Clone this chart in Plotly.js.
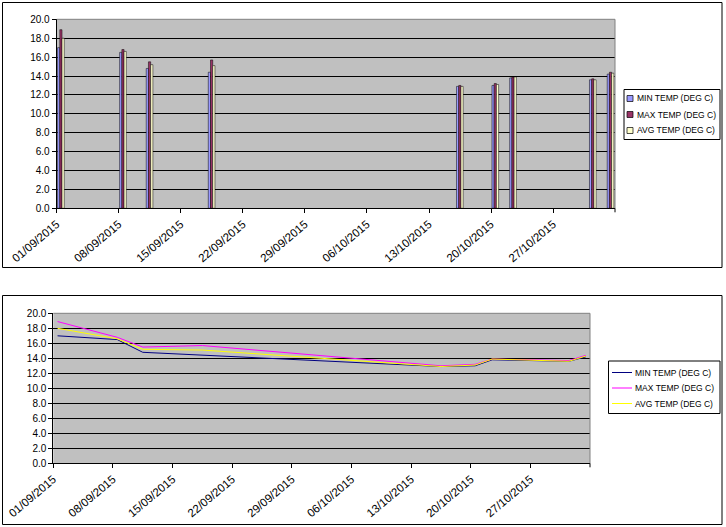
<!DOCTYPE html>
<html>
<head>
<meta charset="utf-8">
<script src="https://cdn.plot.ly/plotly-3.0.1.min.js"></script>
<style>html,body{margin:0;padding:0;background:#fff;}#chart{width:726px;height:527px;}</style>
</head>
<body>
<div id="chart"></div>
<script>
// ---- data ----
var dates = ['2015-09-01','2015-09-08','2015-09-11','2015-09-18','2015-10-16','2015-10-20','2015-10-22','2015-10-31','2015-11-02'];
var minTemp = [17.0, 16.5, 14.8, 14.4, 12.9, 13.0, 13.8, 13.6, 14.2];
var maxTemp = [18.9, 16.8, 15.5, 15.7, 13.0, 13.2, 13.9, 13.7, 14.4];
var avgTemp = [18.0, 16.6, 15.2, 15.1, 12.9, 13.1, 13.9, 13.6, 14.3];
var seriesNames = ['MIN TEMP (DEG C)', 'MAX TEMP (DEG C)', 'AVG TEMP (DEG C)'];
var yTickVals = [0,2,4,6,8,10,12,14,16,18,20];

// ---- style ----
var W = 726, H = 527;
var DAY = 86400000;
var barColors = ['#9999FF', '#993366', '#FFFFCC'];
var lineColors = ['#000080', '#FF00FF', '#FFFF00'];
var FONT = 'Liberation Sans, Arial, sans-serif';
function px(x){return x / W;}
function py(y){return 1 - y / H;}

var series = [minTemp, maxTemp, avgTemp];
var traces = [];
series.forEach(function(vals, i){
  traces.push({
    type: 'bar', x: dates, y: vals, name: seriesNames[i],
    xaxis: 'x', yaxis: 'y',
    width: 0.25 * DAY, offset: (0.1 + 0.25 * i) * DAY,
    marker: {color: barColors[i], line: {color: '#000', width: 0.5}},
    showlegend: false, hoverinfo: 'x+y+name'
  });
});
series.forEach(function(vals, i){
  traces.push({
    type: 'scatter', mode: 'lines', x: dates, y: vals, name: seriesNames[i],
    xaxis: 'x2', yaxis: 'y2',
    xperiod: DAY, xperiodalignment: 'middle',
    line: {color: lineColors[i], width: 1},
    showlegend: false
  });
});

function xAxis(domain){
  return {
    type: 'date', domain: domain,
    range: ['2015-09-01', '2015-11-02 23:30'],
    tick0: '2015-09-01', dtick: 7 * DAY, tickformat: '%d/%m/%Y',
    tickangle: -40, ticks: 'outside', ticklen: 4, tickcolor: '#000',
    showline: true, linecolor: '#000', linewidth: 1,
    showgrid: false, zeroline: false,
    tickfont: {family: FONT, size: 11.5, color: '#000'}, fixedrange: true
  };
}
function yAxis(domain, anchor){
  return {
    domain: domain, anchor: anchor, range: [0, 20],
    tickvals: yTickVals, tickformat: '.1f',
    ticks: 'outside', ticklen: 4, tickcolor: '#000',
    showline: true, linecolor: '#000', linewidth: 1,
    showgrid: true, gridcolor: '#000', gridwidth: 1, zeroline: false,
    tickfont: {family: FONT, size: 10, color: '#000'}, fixedrange: true
  };
}

var shapes = [
  // chart borders
  {type: 'rect', xref: 'paper', yref: 'paper', x0: px(2.5), x1: px(722), y0: py(267.5), y1: py(2.5), line: {color: '#000', width: 1}},
  {type: 'rect', xref: 'paper', yref: 'paper', x0: px(2.5), x1: px(722), y0: py(524.5), y1: py(295.5), line: {color: '#000', width: 1}},
  // plot area top/right gray borders
  {type: 'line', xref: 'x domain', yref: 'y domain', x0: 0, x1: 1, y0: 1, y1: 1, line: {color: '#808080', width: 1}},
  {type: 'line', xref: 'x domain', yref: 'y domain', x0: 1, x1: 1, y0: 0, y1: 1, line: {color: '#808080', width: 1}},
  {type: 'line', xref: 'x2 domain', yref: 'y2 domain', x0: 0, x1: 1, y0: 1, y1: 1, line: {color: '#808080', width: 1}},
  {type: 'line', xref: 'x2 domain', yref: 'y2 domain', x0: 1, x1: 1, y0: 0, y1: 1, line: {color: '#808080', width: 1}},
  // right-end tick marks
  {type: 'line', xref: 'x domain', yref: 'paper', x0: 1, x1: 1, y0: py(208.3), y1: py(212.3), line: {color: '#000', width: 1}},
  {type: 'line', xref: 'x2 domain', yref: 'paper', x0: 1, x1: 1, y0: py(463.3), y1: py(467.3), line: {color: '#000', width: 1}},
  // legend boxes
  {type: 'rect', xref: 'paper', yref: 'paper', x0: px(624), x1: px(720), y0: py(139.5), y1: py(89.5), line: {color: '#000', width: 1}, fillcolor: '#fff'},
  {type: 'rect', xref: 'paper', yref: 'paper', x0: px(608.5), x1: px(720), y0: py(413.5), y1: py(361), line: {color: '#000', width: 1}, fillcolor: '#fff'}
];
var annotations = [];
var topRows = [98.5, 114.5, 130.5];
var botRows = [372.5, 388, 403.5];
seriesNames.forEach(function(n, i){
  shapes.push({type: 'rect', xref: 'paper', yref: 'paper', x0: px(627), x1: px(633), y0: py(topRows[i] + 3), y1: py(topRows[i] - 3),
    fillcolor: barColors[i], line: {color: '#000', width: 0.7}});
  annotations.push({xref: 'paper', yref: 'paper', x: px(635), y: py(topRows[i]), xanchor: 'left', yanchor: 'middle',
    text: n, showarrow: false, font: {family: FONT, size: 8.5, color: '#000'}});
  shapes.push({type: 'line', xref: 'paper', yref: 'paper', x0: px(612), x1: px(632), y0: py(botRows[i]), y1: py(botRows[i]),
    line: {color: lineColors[i], width: 1}});
  annotations.push({xref: 'paper', yref: 'paper', x: px(633), y: py(botRows[i]), xanchor: 'left', yanchor: 'middle',
    text: n, showarrow: false, font: {family: FONT, size: 8.5, color: '#000'}});
});

var layout = {
  width: W, height: H,
  margin: {l: 0, r: 0, t: 0, b: 0},
  paper_bgcolor: '#fff', plot_bgcolor: '#C0C0C0',
  barmode: 'overlay', showlegend: false,
  font: {family: FONT, size: 10, color: '#000'},
  xaxis: Object.assign(xAxis([px(56.7), px(615)]), {anchor: 'y'}),
  yaxis: yAxis([py(208.3), py(19.3)], 'x'),
  xaxis2: Object.assign(xAxis([px(53.3), px(590)]), {anchor: 'y2'}),
  yaxis2: yAxis([py(463.3), py(313.3)], 'x2'),
  shapes: shapes, annotations: annotations
};

Plotly.newPlot('chart', traces, layout, {displayModeBar: false, staticPlot: true});
</script>
</body>
</html>
